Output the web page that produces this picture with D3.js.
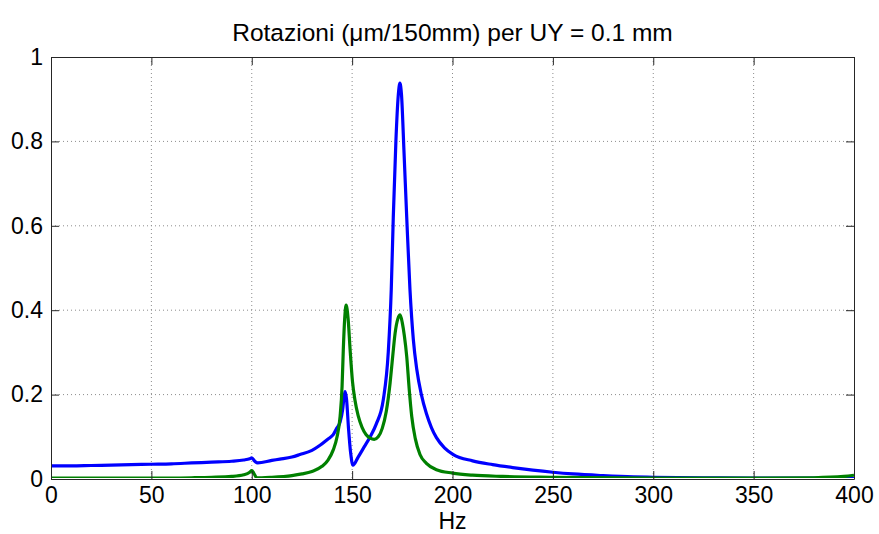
<!DOCTYPE html>
<html>
<head>
<meta charset="utf-8">
<script src="https://cdn.jsdelivr.net/npm/d3@7"></script>
<style>
  html, body { margin: 0; padding: 0; background: #fff; }
  svg { display: block; }
  text { font-family: "Liberation Sans", Arial, Helvetica, sans-serif; fill: #000; }
</style>
</head>
<body>
<svg id="chart" width="879" height="534"></svg>
<script>
// ---- data ----
const titleText = "Rotazioni (\u03bcm/150mm) per UY = 0.1 mm";
const xLabel = "Hz";
const xTicks = [0, 50, 100, 150, 200, 250, 300, 350, 400];
const yTicks = [0, 0.2, 0.4, 0.6, 0.8, 1];
const yTickLabels = ["0", "0.2", "0.4", "0.6", "0.8", "1"];

const blueHz = [0, 10, 20, 30, 40, 50, 60, 70, 80, 90, 96, 99, 100, 101.5, 103, 110, 114, 120, 124, 130, 134, 138, 140.6, 142.3, 144, 145.3, 146, 146.5, 147.2, 148.2, 149.3, 150.4, 153, 156, 159, 162, 165.5, 168, 169.5, 170.5, 171.8, 173, 173.8, 174.6, 175.8, 177.2, 178.8, 180.5, 182.2, 184.5, 187, 189.5, 192, 196, 200.4, 210, 220, 230, 240, 250, 260, 275, 290, 300, 325, 350, 375, 395, 400];
const blueVal = [0.031, 0.031, 0.032, 0.033, 0.034, 0.035, 0.036, 0.038, 0.040, 0.042, 0.045, 0.048, 0.050, 0.042, 0.038, 0.044, 0.047, 0.052, 0.058, 0.068, 0.080, 0.095, 0.105, 0.120, 0.135, 0.165, 0.195, 0.207, 0.190, 0.120, 0.060, 0.033, 0.052, 0.076, 0.100, 0.130, 0.187, 0.300, 0.450, 0.620, 0.800, 0.910, 0.938, 0.910, 0.780, 0.620, 0.450, 0.330, 0.260, 0.200, 0.155, 0.122, 0.098, 0.074, 0.058, 0.043, 0.034, 0.027, 0.021, 0.016, 0.012, 0.008, 0.005, 0.004, 0.003, 0.002, 0.002, 0.002, 0.001];

const greenHz = [0, 50, 70, 80, 90, 96, 99, 100, 101, 102.5, 105, 110, 120, 125, 130, 135, 138, 140.6, 142.5, 144, 145, 145.6, 146.3, 147, 148, 149, 150.2, 151.4, 153, 155, 157, 159, 161, 163, 165, 167, 168.9, 170.2, 171.4, 172.8, 173.9, 175, 176, 177.2, 178.4, 179.7, 181.5, 183.8, 187, 192, 200, 210, 225, 250, 300, 350, 380, 395, 400];
const greenVal = [0.002, 0.002, 0.003, 0.004, 0.006, 0.010, 0.016, 0.020, 0.014, 0.003, 0.003, 0.004, 0.008, 0.012, 0.018, 0.030, 0.045, 0.069, 0.100, 0.148, 0.220, 0.306, 0.380, 0.412, 0.380, 0.306, 0.230, 0.187, 0.150, 0.122, 0.105, 0.097, 0.094, 0.100, 0.120, 0.160, 0.227, 0.290, 0.345, 0.380, 0.389, 0.370, 0.340, 0.290, 0.215, 0.148, 0.095, 0.058, 0.037, 0.022, 0.014, 0.009, 0.006, 0.004, 0.002, 0.002, 0.003, 0.006, 0.009];

// ---- layout ----
const svg = d3.select("#chart");
const L = 51, R = 854, T = 57, B = 479;
const x = d3.scaleLinear().domain([0, 400]).range([L, R]);
const y = d3.scaleLinear().domain([0, 1]).range([B, T]);

// grid
const grid = svg.append("g");
grid.selectAll("line.gx").data(xTicks.slice(1, -1)).join("line")
  .attr("x1", d => x(d)).attr("x2", d => x(d)).attr("y1", T).attr("y2", B)
  .attr("stroke", "#8c8c8c").attr("stroke-width", 1).attr("stroke-dasharray", "1,3");
grid.selectAll("line.gy").data(yTicks.slice(1, -1)).join("line")
  .attr("y1", d => y(d)).attr("y2", d => y(d)).attr("x1", L).attr("x2", R)
  .attr("stroke", "#8c8c8c").attr("stroke-width", 1).attr("stroke-dasharray", "1,3");

// lines
const blue = blueHz.map((h, i) => [h, blueVal[i]]);
const green = greenHz.map((h, i) => [h, greenVal[i]]);
const line = d3.line().x(d => x(d[0])).y(d => y(d[1])).curve(d3.curveMonotoneX);

const clipId = "plotclip";
svg.append("clipPath").attr("id", clipId).append("rect")
  .attr("x", L).attr("y", T - 2).attr("width", R - L).attr("height", B - T + 1);

svg.append("path").datum(blue).attr("d", line).attr("fill", "none")
  .attr("stroke", "#0000ff").attr("stroke-width", 3.2).attr("stroke-linejoin", "round")
  .attr("clip-path", `url(#${clipId})`);
svg.append("path").datum(green).attr("d", line).attr("fill", "none")
  .attr("stroke", "#008000").attr("stroke-width", 3.2).attr("stroke-linejoin", "round")
  .attr("clip-path", `url(#${clipId})`);

// axes (box with inward ticks)
const axisColor = "#262626";
const xb = svg.append("g").attr("transform", `translate(0,${B})`)
  .call(d3.axisBottom(x).tickValues(xTicks).tickSizeInner(-8).tickSizeOuter(0).tickPadding(12).tickFormat(d3.format("d")));
const xt = svg.append("g").attr("transform", `translate(0,${T})`)
  .call(d3.axisTop(x).tickValues(xTicks).tickSizeInner(-8).tickSizeOuter(0).tickFormat(""));
const yl = svg.append("g").attr("transform", `translate(${L},0)`)
  .call(d3.axisLeft(y).tickValues(yTicks).tickSizeInner(-8).tickSizeOuter(0).tickPadding(12)
    .tickFormat((d, i) => yTickLabels[i]));
const yr = svg.append("g").attr("transform", `translate(${R},0)`)
  .call(d3.axisRight(y).tickValues(yTicks).tickSizeInner(-8).tickSizeOuter(0).tickFormat(""));

[xb, xt, yl, yr].forEach(g => {
  g.select(".domain").attr("stroke", axisColor).attr("stroke-width", 1);
  g.selectAll(".tick line").attr("stroke", axisColor);
  g.selectAll(".tick text").attr("font-size", 23).attr("font-family", "'Liberation Sans', Arial, sans-serif").attr("fill", "#000");
});
xb.selectAll(".tick text").attr("dy", "0.71em").attr("y", 8);
yl.selectAll(".tick text").attr("x", -8);

// title & label
svg.append("text").attr("x", (L + R) / 2).attr("y", 41).attr("text-anchor", "middle")
  .attr("font-size", 24.5).text(titleText);
svg.append("text").attr("x", (L + R) / 2).attr("y", 529).attr("text-anchor", "middle")
  .attr("font-size", 23).text(xLabel);
</script>
</body>
</html>
